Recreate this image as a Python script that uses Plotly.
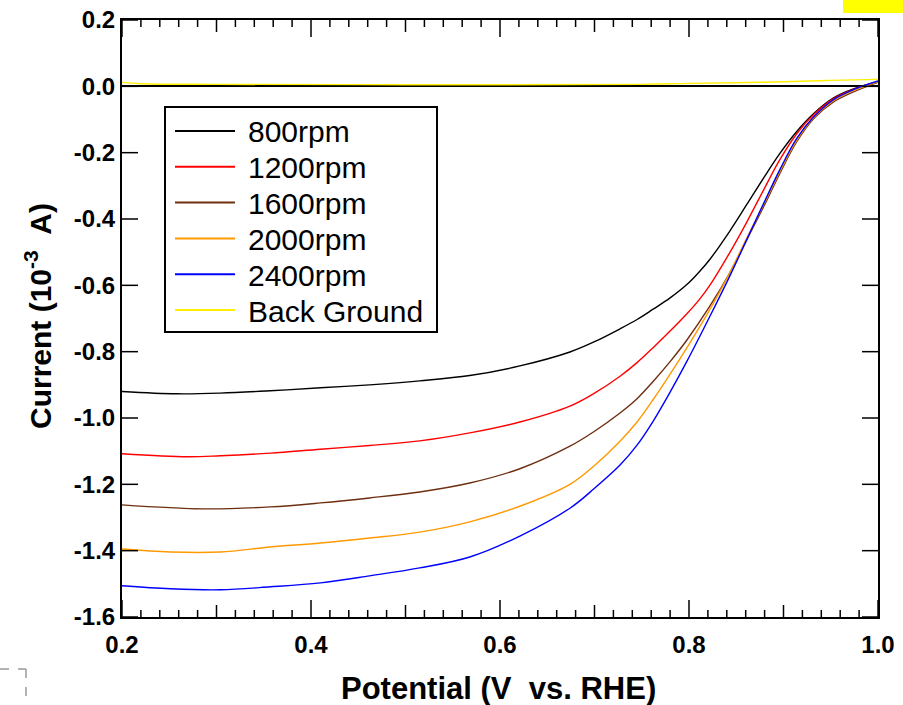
import plotly.graph_objects as go

# ---- data ----
v_800 = [0.200, 0.258, 0.304, 0.357, 0.410, 0.462, 0.515, 0.568, 0.621, 0.674, 0.700, 0.727, 0.745, 0.762, 0.780, 0.798, 0.810, 0.822, 0.843, 0.861, 0.879, 0.896, 0.914, 0.932, 0.953, 0.974, 1.000]
i_800 = [-0.920, -0.927, -0.925, -0.918, -0.909, -0.900, -0.888, -0.872, -0.843, -0.801, -0.770, -0.731, -0.703, -0.672, -0.638, -0.597, -0.562, -0.522, -0.437, -0.357, -0.276, -0.203, -0.136, -0.082, -0.035, -0.008, 0.013]

v_1200 = [0.200, 0.269, 0.304, 0.357, 0.410, 0.462, 0.515, 0.568, 0.621, 0.674, 0.700, 0.727, 0.745, 0.762, 0.780, 0.798, 0.810, 0.822, 0.843, 0.861, 0.879, 0.896, 0.914, 0.932, 0.953, 0.974, 1.000]
i_1200 = [-1.108, -1.117, -1.114, -1.106, -1.094, -1.083, -1.069, -1.045, -1.012, -0.964, -0.925, -0.874, -0.833, -0.788, -0.738, -0.685, -0.646, -0.600, -0.502, -0.410, -0.312, -0.222, -0.143, -0.085, -0.037, -0.009, 0.013]

v_1600 = [0.200, 0.286, 0.357, 0.410, 0.462, 0.515, 0.568, 0.621, 0.674, 0.700, 0.727, 0.745, 0.762, 0.780, 0.798, 0.822, 0.843, 0.861, 0.879, 0.896, 0.914, 0.932, 0.953, 0.974, 1.000]
i_1600 = [-1.262, -1.274, -1.268, -1.256, -1.241, -1.223, -1.196, -1.153, -1.085, -1.040, -0.985, -0.942, -0.890, -0.830, -0.764, -0.663, -0.563, -0.463, -0.363, -0.263, -0.167, -0.097, -0.047, -0.017, 0.012]

v_2000 = [0.200, 0.251, 0.304, 0.357, 0.410, 0.462, 0.515, 0.568, 0.621, 0.674, 0.700, 0.727, 0.745, 0.762, 0.780, 0.798, 0.822, 0.843, 0.861, 0.879, 0.896, 0.914, 0.932, 0.953, 0.974, 1.000]
i_2000 = [-1.395, -1.404, -1.404, -1.389, -1.377, -1.362, -1.344, -1.313, -1.266, -1.200, -1.143, -1.070, -1.012, -0.945, -0.868, -0.787, -0.673, -0.563, -0.458, -0.356, -0.257, -0.162, -0.094, -0.043, -0.013, 0.014]

v_2400 = [0.200, 0.251, 0.304, 0.357, 0.410, 0.462, 0.515, 0.568, 0.621, 0.674, 0.700, 0.727, 0.745, 0.762, 0.780, 0.798, 0.822, 0.843, 0.861, 0.879, 0.896, 0.914, 0.932, 0.953, 0.974, 1.000]
i_2400 = [-1.506, -1.515, -1.518, -1.509, -1.497, -1.476, -1.452, -1.419, -1.356, -1.272, -1.212, -1.142, -1.082, -1.010, -0.922, -0.828, -0.694, -0.573, -0.463, -0.353, -0.252, -0.157, -0.092, -0.040, -0.010, 0.016]

v_bg = [0.200, 0.220, 0.300, 0.500, 0.750, 0.800, 0.890, 0.950, 1.000]
i_bg = [0.012, 0.008, 0.006, 0.005, 0.006, 0.009, 0.013, 0.018, 0.021]

series_names = ["800rpm", "1200rpm", "1600rpm", "2000rpm", "2400rpm", "Back Ground"]
series_colors = ["#000000", "#ff0000", "#6e2e10", "#ff9900", "#0000ff", "#ffee00"]
series_x = [v_800, v_1200, v_1600, v_2000, v_2400, v_bg]
series_y = [i_800, i_1200, i_1600, i_2000, i_2400, i_bg]

x_label_vals = [0.2, 0.4, 0.6, 0.8, 1.0]
x_label_text = ["0.2", "0.4", "0.6", "0.8", "1.0"]
x_mid_vals = [0.3, 0.5, 0.7, 0.9]
x_minor_vals = [round(0.2 + 0.02 * k, 2) for k in range(41) if k % 5]
y_tick_vals = [0.2, 0.0, -0.2, -0.4, -0.6, -0.8, -1.0, -1.2, -1.4, -1.6]
y_tick_text = ["0.2", "0.0", "-0.2", "-0.4", "-0.6", "-0.8", "-1.0", "-1.2", "-1.4", "-1.6"]

FONT = "Liberation Sans, Arial, sans-serif"

# figure geometry (pixels)
W, H = 903, 705
ML, MR, MT, MB = 122, 25, 20, 88
PW, PH = W - ML - MR, H - MT - MB


def px(xp):
    return (xp - ML) / PW


def py(yp):
    return (H - MB - yp) / PH


fig = go.Figure()
for name, color, xs, ys in zip(series_names, series_colors, series_x, series_y):
    fig.add_trace(go.Scatter(
        x=xs, y=ys, mode="lines", name=name, showlegend=False,
        line=dict(color=color, width=1.4, shape="spline", smoothing=1.0),
    ))

shapes = []

# inward tick marks on all four sides (placed on the data scales)
def x_ticks(vals, length):
    f = length / PH
    for v in vals:
        shapes.append(dict(type="line", xref="x", yref="paper", x0=v, x1=v, y0=0, y1=f,
                           line=dict(color="black", width=1.5), layer="above"))
        shapes.append(dict(type="line", xref="x", yref="paper", x0=v, x1=v, y0=1, y1=1 - f,
                           line=dict(color="black", width=1.5), layer="above"))


def y_ticks(vals, length):
    f = length / PW
    for v in vals:
        shapes.append(dict(type="line", xref="paper", yref="y", x0=0, x1=f, y0=v, y1=v,
                           line=dict(color="black", width=1.5), layer="above"))
        shapes.append(dict(type="line", xref="paper", yref="y", x0=1, x1=1 - f, y0=v, y1=v,
                           line=dict(color="black", width=1.5), layer="above"))


x_ticks(x_label_vals, 17)
x_ticks(x_mid_vals, 12)
x_ticks(x_minor_vals, 7)
y_ticks(y_tick_vals, 16)

# legend box drawn as a framed key inside the plot
shapes.append(dict(type="rect", xref="paper", yref="paper",
                   x0=px(165), x1=px(437), y0=py(332), y1=py(107),
                   fillcolor="white", line=dict(color="black", width=2), layer="above"))
annotations = []
for k, (name, color) in enumerate(zip(series_names, series_colors)):
    yc = 131 + k * 35.8
    shapes.append(dict(type="line", xref="paper", yref="paper",
                       x0=px(175), x1=px(235), y0=py(yc), y1=py(yc),
                       line=dict(color=color, width=2), layer="above"))
    annotations.append(dict(text=name, xref="paper", yref="paper",
                            x=px(246), y=py(yc + 1), xanchor="left", yanchor="middle",
                            showarrow=False,
                            font=dict(family=FONT, size=30, color="black")))

annotations += [
    dict(text="Potential (V  vs. RHE)", xref="paper", yref="paper",
         x=px(498), y=py(688), xanchor="center", yanchor="middle", showarrow=False,
         font=dict(family=FONT, size=31, color="black", weight="bold")),
    dict(text="Current (10<sup>-3</sup>  A)", xref="paper", yref="paper",
         x=px(38), y=py(316), xanchor="center", yanchor="middle", showarrow=False,
         textangle=-90,
         font=dict(family=FONT, size=30, color="black", weight="bold")),
]

shapes += [
    dict(type="rect", xref="paper", yref="paper",
         x0=px(843), x1=px(903), y0=py(13), y1=py(-5),
         fillcolor="#ffff00", line=dict(width=0), layer="above"),
    dict(type="line", xref="paper", yref="paper",
         x0=px(0), x1=px(26), y0=py(669), y1=py(669),
         line=dict(color="#9a9a9a", width=1.5, dash="dash")),
    dict(type="line", xref="paper", yref="paper",
         x0=px(26), x1=px(26), y0=py(669), y1=py(706),
         line=dict(color="#9a9a9a", width=1.5, dash="dash")),
]

fig.update_layout(
    width=W, height=H,
    margin=dict(l=ML, r=MR, t=MT, b=MB, autoexpand=False),
    paper_bgcolor="white", plot_bgcolor="white",
    font=dict(family=FONT, color="black"),
    showlegend=False,
    xaxis=dict(
        range=[0.2, 1.0], showgrid=False, zeroline=False, automargin=False,
        showline=True, linecolor="black", linewidth=2, mirror=True,
        ticks="", tickmode="array", tickvals=x_label_vals, ticktext=x_label_text,
        tickfont=dict(family=FONT, size=24, color="black", weight="bold"),
        ticklabelstandoff=5,
    ),
    yaxis=dict(
        range=[-1.6, 0.2], showgrid=False, automargin=False,
        zeroline=True, zerolinecolor="black", zerolinewidth=1.6,
        showline=True, linecolor="black", linewidth=2, mirror=True,
        ticks="", tickmode="array", tickvals=y_tick_vals, ticktext=y_tick_text,
        tickfont=dict(family=FONT, size=24, color="black", weight="bold"),
    ),
    annotations=annotations,
    shapes=shapes,
)

fig.write_html("out.html")
